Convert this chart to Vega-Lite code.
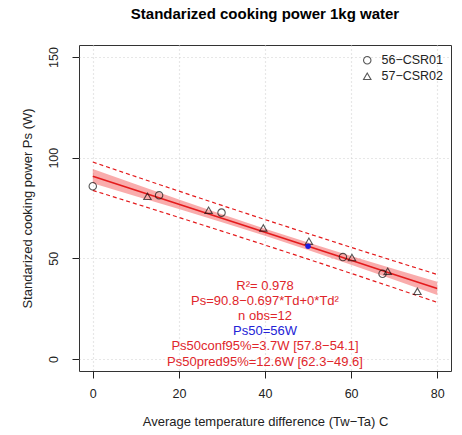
{
  "$schema": "https://vega.github.io/schema/vega-lite/v6.json",
  "width": 372,
  "height": 326,
  "autosize": {"type": "none"},
  "padding": {"left": 79, "top": 45, "right": 11, "bottom": 64},
  "background": "white",
  "title": {
    "text": "Standarized cooking power 1kg water",
    "anchor": "middle",
    "frame": "group",
    "baseline": "alphabetic",
    "offset": 11,
    "font": "Liberation Sans",
    "fontSize": 15,
    "fontWeight": "bold",
    "color": "black"
  },
  "config": {
    "view": {"stroke": "#333333", "strokeWidth": 1},
    "font": "Liberation Sans",
    "axis": {
      "domain": false,
      "tickColor": "#222222",
      "tickSize": 7,
      "labelFont": "Liberation Sans",
      "labelFontSize": 12.5,
      "labelColor": "#222222",
      "titleFont": "Liberation Sans",
      "titleFontSize": 13,
      "titleFontWeight": "normal",
      "titleColor": "#222222",
      "grid": true,
      "gridColor": "#cfcfcf",
      "gridDash": [1, 3],
      "gridWidth": 1.2
    }
  },
  "datasets": {
    "fit": [
      {"Td": 0, "fit": 90.8, "clo": 87.25, "chi": 94.35, "plo": 83.76, "phi": 97.84},
      {"Td": 10, "fit": 83.83, "clo": 80.89, "chi": 86.77, "plo": 77.08, "phi": 90.58},
      {"Td": 20, "fit": 76.86, "clo": 74.47, "chi": 79.25, "plo": 70.33, "phi": 83.39},
      {"Td": 30, "fit": 69.89, "clo": 67.93, "chi": 71.85, "plo": 63.5, "phi": 76.28},
      {"Td": 40, "fit": 62.92, "clo": 61.16, "chi": 64.68, "plo": 56.59, "phi": 69.25},
      {"Td": 50, "fit": 55.95, "clo": 54.1, "chi": 57.8, "plo": 49.59, "phi": 62.31},
      {"Td": 60, "fit": 48.98, "clo": 46.78, "chi": 51.18, "plo": 42.51, "phi": 55.45},
      {"Td": 70, "fit": 42.01, "clo": 39.3, "chi": 44.72, "plo": 35.35, "phi": 48.67},
      {"Td": 80, "fit": 35.04, "clo": 31.74, "chi": 38.34, "plo": 28.12, "phi": 41.96}
    ],
    "obs": [
      {"Td": 0, "Ps": 85.8, "unit": "56−CSR01"},
      {"Td": 15.4, "Ps": 81.3, "unit": "56−CSR01"},
      {"Td": 29.9, "Ps": 72.7, "unit": "56−CSR01"},
      {"Td": 58.1, "Ps": 50.6, "unit": "56−CSR01"},
      {"Td": 67.3, "Ps": 42.3, "unit": "56−CSR01"},
      {"Td": 12.7, "Ps": 80.8, "unit": "57−CSR02"},
      {"Td": 26.9, "Ps": 73.9, "unit": "57−CSR02"},
      {"Td": 39.6, "Ps": 65.1, "unit": "57−CSR02"},
      {"Td": 50.2, "Ps": 58.5, "unit": "57−CSR02"},
      {"Td": 60.2, "Ps": 50.4, "unit": "57−CSR02"},
      {"Td": 68.5, "Ps": 43.6, "unit": "57−CSR02"},
      {"Td": 75.4, "Ps": 33.6, "unit": "57−CSR02"}
    ],
    "ps50": [
      {"Td": 50, "Ps": 56}
    ],
    "notes": [
      {"Td": 40, "Ps": 36.2, "label": "R²= 0.978", "kind": "fit"},
      {"Td": 40, "Ps": 28.7, "label": "Ps=90.8−0.697*Td+0*Td²", "kind": "fit"},
      {"Td": 40, "Ps": 21.2, "label": "n obs=12", "kind": "fit"},
      {"Td": 40, "Ps": 13.7, "label": "Ps50=56W", "kind": "ps50"},
      {"Td": 40, "Ps": 6.2, "label": "Ps50conf95%=3.7W [57.8−54.1]", "kind": "fit"},
      {"Td": 40, "Ps": -1.3, "label": "Ps50pred95%=12.6W [62.3−49.6]", "kind": "fit"}
    ]
  },
  "layer": [
    {
      "data": {"name": "fit"},
      "mark": {"type": "area", "color": "#f03030", "opacity": 0.4},
      "encoding": {
        "x": {
          "field": "Td", "type": "quantitative",
          "scale": {"domain": [-3.2, 83.2], "nice": false, "zero": false},
          "axis": {
            "values": [0, 20, 40, 60, 80],
            "title": "Average temperature difference (Tw−Ta) C",
            "labelPadding": 9,
            "titlePadding": 16
          }
        },
        "y": {
          "field": "clo", "type": "quantitative",
          "scale": {"domain": [-6, 156], "nice": false, "zero": false},
          "axis": {
            "values": [0, 50, 100, 150],
            "title": "Standarized cooking power Ps (W)",
            "labelAngle": -90,
            "labelAlign": "center",
            "labelBaseline": "bottom",
            "labelPadding": 12,
            "titlePadding": 13
          }
        },
        "y2": {"field": "chi"}
      }
    },
    {
      "data": {"name": "fit"},
      "mark": {"type": "line", "color": "#e41a1c", "strokeWidth": 1.6},
      "encoding": {
        "x": {"field": "Td", "type": "quantitative"},
        "y": {"field": "fit", "type": "quantitative"}
      }
    },
    {
      "data": {"name": "fit"},
      "mark": {"type": "line", "color": "#e41a1c", "strokeWidth": 1.2, "strokeDash": [4, 3]},
      "encoding": {
        "x": {"field": "Td", "type": "quantitative"},
        "y": {"field": "plo", "type": "quantitative"}
      }
    },
    {
      "data": {"name": "fit"},
      "mark": {"type": "line", "color": "#e41a1c", "strokeWidth": 1.2, "strokeDash": [4, 3]},
      "encoding": {
        "x": {"field": "Td", "type": "quantitative"},
        "y": {"field": "phi", "type": "quantitative"}
      }
    },
    {
      "data": {"name": "obs"},
      "mark": {"type": "point", "filled": false, "stroke": "#111111", "strokeWidth": 1.1, "size": 55},
      "encoding": {
        "x": {"field": "Td", "type": "quantitative"},
        "y": {"field": "Ps", "type": "quantitative"},
        "shape": {
          "field": "unit", "type": "nominal",
          "scale": {"domain": ["56−CSR01", "57−CSR02"], "range": ["circle", "triangle-up"]},
          "legend": {
            "title": null,
            "orient": "none",
            "legendX": 282,
            "legendY": 9,
            "labelFont": "Liberation Sans",
            "labelFontSize": 12.5,
            "labelColor": "#222222",
            "symbolStrokeColor": "#111111",
            "symbolFillColor": "transparent",
            "symbolStrokeWidth": 1.1,
            "symbolSize": 55,
            "rowPadding": 3,
            "labelOffset": 8
          }
        }
      }
    },
    {
      "data": {"name": "ps50"},
      "mark": {"type": "point", "filled": true, "shape": "circle", "color": "#1a1ae0", "size": 30, "opacity": 1},
      "encoding": {
        "x": {"field": "Td", "type": "quantitative"},
        "y": {"field": "Ps", "type": "quantitative"}
      }
    },
    {
      "data": {"name": "notes"},
      "mark": {"type": "text", "font": "Liberation Sans", "fontSize": 13, "align": "center", "baseline": "middle"},
      "encoding": {
        "x": {"field": "Td", "type": "quantitative"},
        "y": {"field": "Ps", "type": "quantitative"},
        "text": {"field": "label"},
        "color": {
          "field": "kind", "type": "nominal",
          "scale": {"domain": ["fit", "ps50"], "range": ["#e0262b", "#2323d6"]},
          "legend": null
        }
      }
    }
  ]
}
